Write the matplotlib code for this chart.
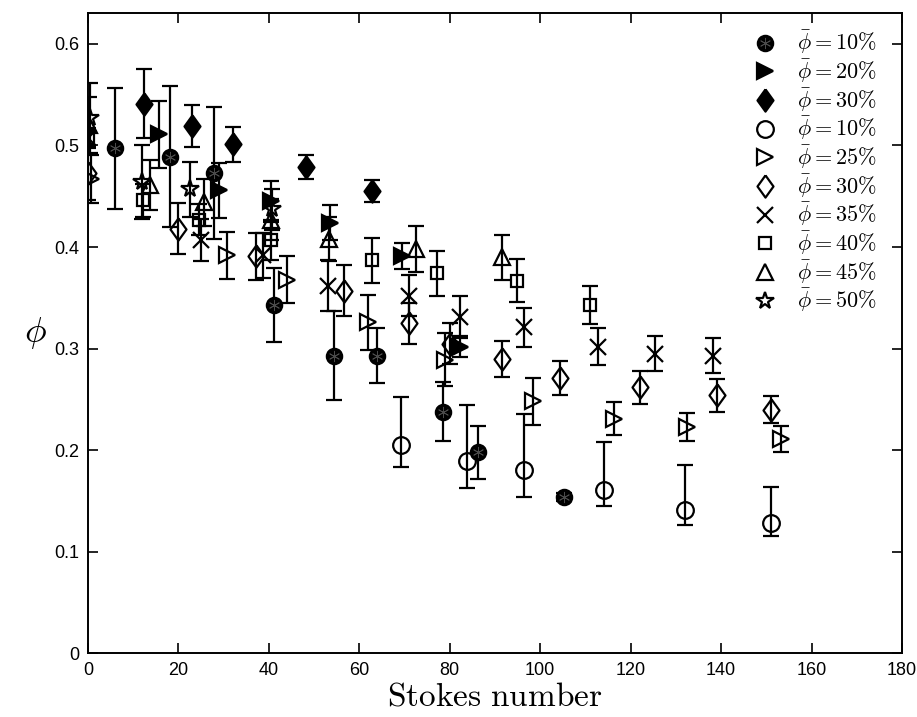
import matplotlib; matplotlib.use("Agg")
import matplotlib.pyplot as plt
from matplotlib.lines import Line2D

plt.rcParams["mathtext.fontset"] = "cm"
plt.rcParams["font.family"] = ["Liberation Sans Narrow", "Liberation Sans", "DejaVu Sans"]

# ---------- data ----------
# filled symbols
st_f10 = [6.0, 18.1, 27.9, 41.2, 54.5, 64.0, 78.4, 86.2, 105.2]
phi_f10 = [0.497, 0.489, 0.473, 0.343, 0.293, 0.293, 0.238, 0.198, 0.154]
err_f10 = [0.060, 0.069, 0.065, 0.036, 0.044, 0.027, 0.029, 0.026, 0.004]

st_f20 = [15.7, 29.0, 40.4, 53.5, 69.4, 82.3]
phi_f20 = [0.511, 0.456, 0.445, 0.424, 0.391, 0.302]
err_f20 = [0.033, 0.027, 0.020, 0.017, 0.013, 0.010]

st_f30 = [12.4, 23.1, 32.1, 48.2, 62.8]
phi_f30 = [0.541, 0.519, 0.501, 0.479, 0.455]
err_f30 = [0.034, 0.021, 0.017, 0.012, 0.011]

# open symbols
st_o10 = [69.2, 83.8, 96.5, 114.2, 132.1, 151.1]
phi_o10 = [0.205, 0.189, 0.181, 0.161, 0.141, 0.128]
lo_o10 = [0.021, 0.026, 0.027, 0.016, 0.015, 0.012]
hi_o10 = [0.047, 0.056, 0.055, 0.047, 0.044, 0.036]

st_o25 = [0.6, 30.7, 44.1, 62.0, 79.0, 98.5, 116.4, 132.4, 153.3]
phi_o25 = [0.467, 0.392, 0.368, 0.326, 0.289, 0.248, 0.231, 0.223, 0.211]
err_o25 = [0.024, 0.023, 0.023, 0.027, 0.026, 0.023, 0.016, 0.014, 0.013]

st_o30 = [0.0, 19.8, 37.2, 56.6, 70.9, 80.0, 91.5, 104.4, 122.1, 139.1, 151.1]
phi_o30 = [0.473, 0.418, 0.391, 0.357, 0.325, 0.305, 0.290, 0.271, 0.262, 0.254, 0.240]
err_o30 = [0.027, 0.025, 0.023, 0.025, 0.020, 0.020, 0.018, 0.017, 0.016, 0.016, 0.013]

st_o35 = [0.0, 25.0, 38.8, 53.1, 70.9, 82.2, 96.5, 112.7, 125.4, 138.3]
phi_o35 = [0.507, 0.407, 0.392, 0.362, 0.352, 0.331, 0.321, 0.302, 0.295, 0.293]
err_o35 = [0.008, 0.021, 0.022, 0.025, 0.020, 0.021, 0.019, 0.018, 0.017, 0.017]

st_o40 = [0.0, 12.2, 24.6, 40.4, 62.8, 77.1, 94.8, 111.1]
phi_o40 = [0.507, 0.446, 0.427, 0.407, 0.387, 0.374, 0.367, 0.343]
err_o40 = [0.010, 0.016, 0.015, 0.020, 0.022, 0.022, 0.021, 0.019]

st_o45 = [0.3, 13.7, 25.7, 40.4, 53.3, 72.5, 91.5]
phi_o45 = [0.520, 0.461, 0.444, 0.427, 0.408, 0.398, 0.390]
err_o45 = [0.028, 0.025, 0.023, 0.020, 0.022, 0.023, 0.022]

st_o50 = [0.5, 11.9, 22.6, 40.6]
phi_o50 = [0.527, 0.464, 0.457, 0.437]
err_o50 = [0.034, 0.036, 0.027, 0.020]

labels = ["10", "20", "30", "10", "25", "30", "35", "40", "45", "50"]

fig = plt.figure(figsize=(9.17, 7.17), dpi=100)
ax = fig.add_axes([0.096, 0.0886, 0.8876, 0.8928])

# matlab-ish diamond, a bit wider than mpl's 'd'
diamond = [(0, 1), (0.72, 0), (0, -1), (-0.72, 0), (0, 1)]
asterisk = (6, 2, 0)

ekw = dict(ecolor="k", elinewidth=1.6, capsize=5.5, capthick=1.6, linestyle="none", color="k")
series = [
    (st_f10, phi_f10, err_f10, "o", 11, "k"),
    (st_f20, phi_f20, err_f20, ">", 12, "k"),
    (st_f30, phi_f30, err_f30, diamond, 16, "k"),
    (st_o10, phi_o10, [lo_o10, hi_o10], "o", 12, "none"),
    (st_o25, phi_o25, err_o25, ">", 11.5, "none"),
    (st_o30, phi_o30, err_o30, diamond, 16, "none"),
    (st_o35, phi_o35, err_o35, "x", 11, "none"),
    (st_o40, phi_o40, err_o40, "s", 9, "none"),
    (st_o45, phi_o45, err_o45, "^", 11.5, "none"),
    (st_o50, phi_o50, err_o50, "*", 13, "none"),
]
handles = []
for (x, y, e, m, ms, fc), lab in zip(series, labels):
    ax.errorbar(x, y, yerr=e, marker=m, markersize=ms, markerfacecolor=fc,
                markeredgecolor="k", markeredgewidth=1.6, **ekw)
    handles.append(Line2D([], [], linestyle="none", marker=m, markersize=ms,
                          markerfacecolor=fc, markeredgecolor="k", markeredgewidth=1.6))
# asterisk inside the filled circles
ax.plot(st_f10, phi_f10, linestyle="none", marker=asterisk, markersize=8,
        markeredgecolor="#4a4a4a", markeredgewidth=0.6, zorder=5)
handles[0] = (handles[0], Line2D([], [], linestyle="none", marker=asterisk, markersize=8,
                                 markeredgecolor="#4a4a4a", markeredgewidth=0.6))
texts = [r"$\bar{\phi}=%s\%%$" % lab for lab in labels]

ax.legend(handles, texts, loc="upper right", bbox_to_anchor=(0.994, 1.007), frameon=False,
          fontsize=16, labelspacing=0.05, handletextpad=0.7, handlelength=1.5, borderpad=0.4)

ax.set_xlim(0, 180); ax.set_ylim(0, 0.63)
ax.set_xticks(range(0, 181, 20))
ax.set_yticks([0, 0.1, 0.2, 0.3, 0.4, 0.5, 0.6])
ax.set_yticklabels(["0", "0.1", "0.2", "0.3", "0.4", "0.5", "0.6"])
ax.tick_params(direction="in", length=7, width=1.2, top=True, right=True, labelsize=13, pad=6)
for s in ax.spines.values():
    s.set_linewidth(1.4)
ax.set_xlabel(r"$\mathrm{Stokes\ number}$", fontsize=24, labelpad=2)
ax.set_ylabel(r"$\phi$", fontsize=26, rotation=0, labelpad=14, va="center")

fig.savefig("out.png", dpi=100)
